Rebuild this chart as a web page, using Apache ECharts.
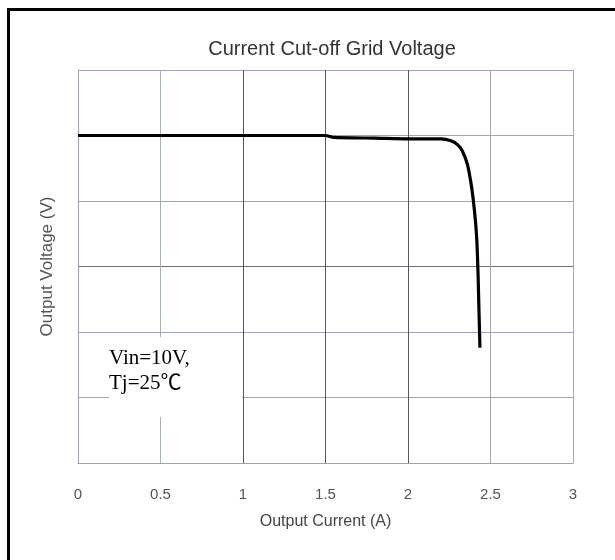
<!DOCTYPE html>
<html>
<head>
<meta charset="utf-8">
<script src="https://cdn.jsdelivr.net/npm/echarts@6/dist/echarts.min.js"></script>
<style>html,body{margin:0;padding:0;background:#fff;}#c{width:615px;height:560px;}</style>
</head>
<body>
<div id="c"></div>
<script>
var titleText = 'Current Cut-off Grid Voltage';
var xName = 'Output Current (A)';
var yName = 'Output Voltage (V)';
var xTicks = [0, 0.5, 1, 1.5, 2, 2.5, 3];
var current = [0, 0.5, 1.0, 1.5, 1.55, 1.8, 2.0, 2.2, 2.26, 2.3, 2.33, 2.36, 2.38, 2.395, 2.41, 2.418, 2.425, 2.43, 2.436];
var voltage = [5.0, 5.0, 5.0, 5.0, 4.97, 4.96, 4.95, 4.95, 4.92, 4.86, 4.76, 4.56, 4.3, 4.03, 3.66, 3.36, 2.85, 2.34, 1.76];
var noteLines = ['Vin=10V,', 'Tj=25℃'];

var pts = current.map(function (x, i) { return [x, voltage[i]]; });
var chart = echarts.init(document.getElementById('c'), null, {renderer: 'canvas'});
chart.setOption({
  animation: false,
  backgroundColor: '#fff',
  title: {
    text: titleText, left: 327, top: 34, textAlign: 'center',
    textStyle: {fontFamily: 'Liberation Sans', fontSize: 20, fontWeight: 'normal', color: '#333'}
  },
  grid: {left: 78, right: 42, top: 70, bottom: 97, containLabel: false},
  xAxis: {
    type: 'value', min: 0, max: 3, interval: 0.5,
    name: xName, nameLocation: 'middle', nameGap: 51,
    nameTextStyle: {fontFamily: 'Liberation Sans', fontSize: 16, color: '#444'},
    axisLine: {show: true, lineStyle: {color: '#a0a0a8', width: 1}},
    axisTick: {show: false},
    axisLabel: {margin: 24, fontFamily: 'Liberation Sans', fontSize: 15, color: '#555',
      formatter: function (v) { return xTicks.indexOf(v) >= 0 ? String(v) : ''; }},
    splitLine: {show: true, lineStyle: {width: 1, color: ['#a0a0a8', '#a8b4a8', '#5a5462', '#5a5462', '#5a5462', '#a8a8b0', '#a8a8b0']}}
  },
  yAxis: {
    type: 'value', min: 0, max: 6, interval: 1,
    name: yName, nameLocation: 'middle', nameGap: 22,
    nameTextStyle: {fontFamily: 'Liberation Sans', fontSize: 17, color: '#555'},
    axisLine: {show: true, lineStyle: {color: '#a0a0b0', width: 1}},
    axisTick: {show: false},
    axisLabel: {show: false},
    splitLine: {show: true, lineStyle: {width: 1, color: ['#a0a0b0', '#a4a4b8', '#a4a4b8', '#707078', '#a4a4b8', '#a4a4b8', '#a4a4b8']}}
  },
  series: [{
    type: 'line', data: pts, showSymbol: false, smooth: 0.2,
    lineStyle: {color: '#000', width: 3.2}, z: 5
  }],
  graphic: [
    {type: 'rect', shape: {x: 109, y: 337, width: 133, height: 80}, style: {fill: '#fff'}, z: 10},
    {type: 'text', left: 109, top: 346, z: 11,
      style: {text: noteLines.join('\n'), fontFamily: '"Liberation Serif", "Noto Sans CJK SC"', fontSize: 21, lineHeight: 25, fill: '#000'}},
    {type: 'line', shape: {x1: 8.5, y1: 8, x2: 8.5, y2: 560}, style: {stroke: '#000', lineWidth: 3}, z: 20},
    {type: 'line', shape: {x1: 7, y1: 9.5, x2: 615, y2: 9.5}, style: {stroke: '#000', lineWidth: 3}, z: 20}
  ]
});
</script>
</body>
</html>
